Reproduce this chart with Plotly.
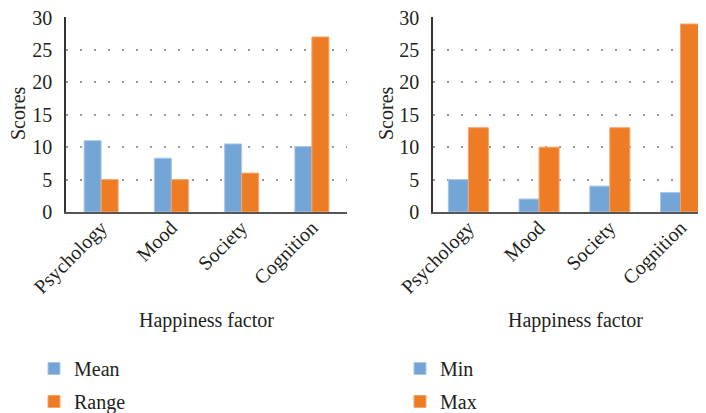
import plotly.graph_objects as go

categories = ["Psychology", "Mood", "Society", "Cognition"]
mean_vals = [11, 8.3, 10.5, 10.1]
range_vals = [5, 5, 6, 27]
min_vals = [5, 2, 4, 3]
max_vals = [13, 10, 13, 29]
y_ticks = [0, 5, 10, 15, 20, 25, 30]

BLUE = "#73A5D7"
ORANGE = "#EE7C24"
BLUE_EDGE = "#A8C8EA"
ORANGE_EDGE = "#F4A56E"
FONT = "Liberation Serif"
TXT = "#231F20"
# page has an 8px body margin; size figure so it fits the 706x413 window
OFF = 8
W, H = 706 - OFF, 413 - OFF
TOP_PX = 17
BOT_PX = 212


def fx(px):
    return (px - OFF) / W


T = TOP_PX - OFF
B = H - (BOT_PX - OFF)
PH = H - T - B


def py_paper(py):
    return (BOT_PX - py) / PH


idx = list(range(len(categories)))

fig = go.Figure()
wl = 0.242
wr = 0.283
fig.add_trace(go.Bar(x=idx, y=mean_vals, name="Mean", marker=dict(color=BLUE, line=dict(color=BLUE_EDGE, width=1)),
                     width=wl, offset=-wl, xaxis="x", yaxis="y", legend="legend", legendgroup="a"))
fig.add_trace(go.Bar(x=idx, y=range_vals, name="Range", marker=dict(color=ORANGE, line=dict(color=ORANGE_EDGE, width=1)),
                     width=wl, offset=0, xaxis="x", yaxis="y", legend="legend", legendgroup="b"))
fig.add_trace(go.Bar(x=idx, y=min_vals, name="Min", marker=dict(color=BLUE, line=dict(color=BLUE_EDGE, width=1)),
                     width=wr, offset=-wr, xaxis="x2", yaxis="y2", legend="legend2", legendgroup="c"))
fig.add_trace(go.Bar(x=idx, y=max_vals, name="Max", marker=dict(color=ORANGE, line=dict(color=ORANGE_EDGE, width=1)),
                     width=wr, offset=0, xaxis="x2", yaxis="y2", legend="legend2", legendgroup="d"))

xcommon = dict(tickmode="array", tickvals=idx, ticktext=categories, tickangle=-45,
               showline=True, linecolor="#555555", linewidth=2, showgrid=False, zeroline=False,
               ticks="", automargin=False, ticklabelstandoff=-6, ticklabeloverflow="allow",
               tickfont=dict(family=FONT, size=20, color=TXT))
ycommon = dict(range=[0, 30.08], tickmode="array", tickvals=y_ticks, showline=True,
               linecolor="#333333", linewidth=1.5, showgrid=True, gridcolor="#9a9a9a",
               gridwidth=1.5, griddash="2px,12px", zeroline=False, automargin=False,
               ticks="outside", ticklen=8, tickcolor="rgba(0,0,0,0)",
               ticklabeloverflow="allow",
               tickfont=dict(family=FONT, size=20, color=TXT))

legfont = dict(family=FONT, size=20, color=TXT)
fig.update_layout(
    width=W, height=H,
    margin=dict(l=0, r=0, t=T, b=B, autoexpand=False),
    plot_bgcolor="white", paper_bgcolor="white",
    barmode="overlay",
    xaxis=dict(domain=[fx(66), fx(347)], range=[-0.5, 3.5], anchor="y", **xcommon),
    yaxis=dict(anchor="x", **ycommon),
    xaxis2=dict(domain=[fx(433), 1.0], range=[-0.5, 3.36], anchor="y2", **xcommon),
    yaxis2=dict(anchor="x2", **ycommon),
    legend=dict(x=fx(34), xref="container", y=1 - (349 - OFF) / H, yref="container",
                xanchor="left", yanchor="top", font=legfont, tracegroupgap=4,
                bgcolor="rgba(0,0,0,0)"),
    legend2=dict(x=fx(400), xref="container", y=1 - (349 - OFF) / H, yref="container",
                 xanchor="left", yanchor="top", font=legfont, tracegroupgap=4,
                 bgcolor="rgba(0,0,0,0)"),
    showlegend=True,
)

for cx in [206, 575]:
    fig.add_annotation(text="Happiness factor", x=fx(cx), xref="paper",
                       y=py_paper(320), yref="paper", showarrow=False,
                       xanchor="center", yanchor="middle",
                       font=dict(family=FONT, size=20, color=TXT))
for cx in [18, 386]:
    fig.add_annotation(text="Scores", x=fx(cx), xref="paper",
                       y=py_paper(113), yref="paper", showarrow=False, textangle=-90,
                       xanchor="center", yanchor="middle",
                       font=dict(family=FONT, size=20, color=TXT))

fig.write_html("out.html")
